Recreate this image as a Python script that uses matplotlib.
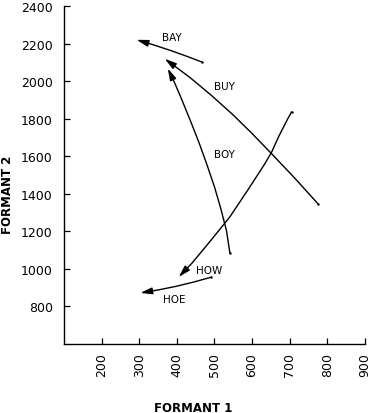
import matplotlib
matplotlib.use("Agg")
import matplotlib.pyplot as plt
from matplotlib.patches import FancyArrowPatch
from matplotlib.path import Path

# Diphthong trajectories (Formant 1, Formant 2), start -> end (arrow at end)
bay_f1 = [466, 424, 382, 338, 293]
bay_f2 = [2102, 2134, 2164, 2193, 2220]

buy_f1 = [775, 714, 652, 599, 549, 493, 435, 368]
buy_f2 = [1347, 1482, 1613, 1723, 1821, 1922, 2019, 2119]

boy_f1 = [541, 532, 517, 500, 480, 459, 436, 412, 395, 376]
boy_f2 = [1085, 1203, 1320, 1437, 1555, 1672, 1789, 1907, 1987, 2067]

how_f1 = [705, 695, 672, 652, 634, 589, 541, 508, 479, 440, 405]
how_f2 = [1836, 1800, 1710, 1622, 1560, 1421, 1277, 1195, 1124, 1030, 957]

hoe_f1 = [492, 445, 398, 351, 303]
hoe_f2 = [956, 930, 907, 888, 872]

words = ["BAY", "BUY", "BOY", "HOW", "HOE"]
label_f1 = [387, 526, 526, 485, 393]
label_f2 = [2237, 1976, 1613, 995, 840]

xticks = [200, 300, 400, 500, 600, 700, 800, 900]
yticks = [800, 1000, 1200, 1400, 1600, 1800, 2000, 2200, 2400]

fig = plt.figure(figsize=(3.72, 4.14), dpi=100)
ax = fig.add_axes([0.172, 0.1667, 0.809, 0.8164])
ax.set_xlim(100, 900)
ax.set_ylim(600, 2400)
ax.spines["top"].set_visible(False)
ax.spines["right"].set_visible(False)
for s in ("left", "bottom"):
    ax.spines[s].set_linewidth(1.0)
ax.set_xticks(xticks)
ax.set_yticks(yticks)
ax.set_xticklabels([str(t) for t in xticks], rotation=90, fontsize=9)
ax.set_yticklabels([str(t) for t in yticks], fontsize=9)
ax.tick_params(axis="both", direction="in", length=4.5, width=0.9)
ax.tick_params(axis="y", pad=8)
ax.tick_params(axis="x", pad=6)

ax.set_xlabel("FORMANT 1", fontsize=8.5, fontweight="bold")
ax.set_ylabel("FORMANT 2", fontsize=8.5, fontweight="bold")
ax.xaxis.set_label_coords(0.43, -0.17)
ax.yaxis.set_label_coords(-0.165, 0.444)

for f1, f2 in [(bay_f1, bay_f2), (buy_f1, buy_f2), (boy_f1, boy_f2),
               (how_f1, how_f2), (hoe_f1, hoe_f2)]:
    p = Path(list(zip(f1, f2)))
    arr = FancyArrowPatch(path=p, arrowstyle="-|>,head_length=0.7,head_width=0.2",
                          mutation_scale=10, color="black", lw=1.0,
                          joinstyle="round", capstyle="round",
                          transform=ax.transData)
    ax.add_patch(arr)
    ax.plot([f1[0]], [f2[0]], "k.", markersize=1.5)

for w, x, y in zip(words, label_f1, label_f2):
    ax.text(x, y, w, fontsize=7.5, ha="center", va="center")

fig.savefig("out.png", dpi=100)
